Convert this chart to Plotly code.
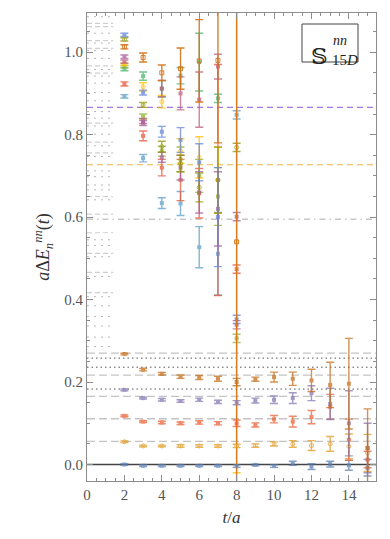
import plotly.graph_objects as go

# ---------------- data ----------------
t_low = [2, 3, 4, 5, 6, 7, 8, 9, 10, 11, 12, 13, 14, 15]

lvl0_val = [0.000, -0.003, -0.003, -0.003, -0.003, -0.003, -0.004, -0.001, -0.004, 0.003, -0.005, 0.001, -0.002, -0.008]
lvl0_err = [0.002, 0.002, 0.002, 0.002, 0.002, 0.002, 0.003, 0.002, 0.003, 0.005, 0.007, 0.007, 0.012, 0.020]
lvl1_val = [0.055, 0.045, 0.045, 0.045, 0.045, 0.045, 0.045, 0.046, 0.050, 0.050, 0.046, 0.050, 0.044, 0.028]
lvl1_err = [0.002, 0.002, 0.002, 0.003, 0.003, 0.003, 0.004, 0.004, 0.005, 0.008, 0.012, 0.018, 0.030, 0.045]
lvl2_val = [0.118, 0.104, 0.102, 0.100, 0.102, 0.100, 0.100, 0.096, 0.110, 0.104, 0.115, 0.140, 0.060, 0.012]
lvl2_err = [0.002, 0.002, 0.003, 0.003, 0.004, 0.004, 0.008, 0.005, 0.009, 0.013, 0.016, 0.030, 0.050, 0.020]
lvl3_val = [0.181, 0.161, 0.157, 0.154, 0.157, 0.152, 0.150, 0.155, 0.157, 0.161, 0.173, 0.147, 0.100, 0.040]
lvl3_err = [0.002, 0.002, 0.003, 0.003, 0.004, 0.004, 0.005, 0.006, 0.009, 0.013, 0.018, 0.038, 0.079, 0.060]
lvl4_val = [0.268, 0.230, 0.220, 0.213, 0.211, 0.208, 0.200, 0.207, 0.212, 0.208, 0.204, 0.193, 0.196, 0.040]
lvl4_err = [0.002, 0.003, 0.003, 0.004, 0.005, 0.006, 0.009, 0.005, 0.012, 0.016, 0.027, 0.055, 0.110, 0.095]

t_up = [2, 3, 4, 5, 6, 7, 8]
up_blue_val = [1.042, 0.902, 0.807, 0.787, 0.733, 0.600, 0.352]
up_blue_err = [0.004, 0.006, 0.013, 0.030, 0.045, 0.120, 0.010]
up_olive_val = [1.031, 0.872, 0.771, 0.730, 0.672, 0.690, 0.769]
up_olive_err = [0.004, 0.006, 0.013, 0.020, 0.035, 0.080, 0.010]
up_orange_val = [1.013, 0.987, 0.950, 0.960, 0.979, 0.980, 0.540]
up_orange_err = [0.005, 0.011, 0.019, 0.050, 0.100, 0.200, 0.900]
up_purple_val = [0.989, 0.828, 0.745, 0.720, 0.660, 0.620, 0.601]
up_purple_err = [0.004, 0.006, 0.012, 0.030, 0.050, 0.090, 0.010]
up_pink_val = [0.977, 0.833, 0.912, 0.900, 0.885, 0.965, 0.339]
up_pink_err = [0.004, 0.006, 0.020, 0.040, 0.067, 0.030, 0.010]
up_yellow_val = [0.971, 0.916, 0.880, 0.760, 0.745, 0.689, 0.540]
up_yellow_err = [0.003, 0.010, 0.015, 0.030, 0.050, 0.080, 0.560]
up_lime_val = [0.965, 0.844, 0.760, 0.740, 0.700, 0.650, 0.306]
up_lime_err = [0.003, 0.006, 0.012, 0.030, 0.040, 0.070, 0.010]
up_green_val = [0.959, 0.942, 0.911, 0.943, 0.976, 0.888, None]
up_green_err = [0.004, 0.010, 0.020, 0.020, 0.070, 0.010, None]
up_red_val = [0.923, 0.797, 0.720, 0.690, 0.658, 0.690, 0.474]
up_red_err = [0.005, 0.012, 0.020, 0.050, 0.060, 0.280, 0.010]
up_lblue_val = [0.893, 0.743, 0.634, 0.633, 0.527, 0.511, 0.848]
up_lblue_err = [0.004, 0.009, 0.013, 0.029, 0.050, 0.100, 0.010]

# full-width reference levels
gray_dash_levels = [0.270, 0.217, 0.165, 0.111, 0.056]
dark_dot_levels = [0.258, 0.236, 0.183]
purple_level = [0.866]
orange_level = [0.727]
dashdot_level = [0.595]
zero_level = [0.0]

# short non-interacting levels near t = 0
left_dot_levels = [1.086, 1.046, 1.022, 1.004, 0.985, 0.958, 0.942, 0.925, 0.902, 0.882,
                   0.856, 0.840, 0.821, 0.801, 0.773, 0.747, 0.712, 0.698, 0.678, 0.666,
                   0.642, 0.545, 0.531, 0.504, 0.456, 0.407, 0.385, 0.359, 0.336, 0.309, 0.286]
left_dash_levels = [1.070, 1.062, 1.028, 1.009, 0.967, 0.949, 0.828, 0.782, 0.756, 0.650,
                    0.607, 0.562, 0.512, 0.466, 0.417]

x_range = [0, 15.45]
y_range = [-0.04, 1.095]
left_extent = [0, 1.4]

fig = go.Figure()

def hline(levels, xs, color, dash, width=1.0):
    for lv in levels:
        fig.add_trace(go.Scatter(x=xs, y=[lv, lv], mode="lines",
                                 line=dict(color=color, dash=dash, width=width),
                                 hoverinfo="skip", showlegend=False))

hline(left_dot_levels, left_extent, "#b8b8b8", "2px,5px", 1.0)
hline(left_dash_levels, left_extent, "#cfcfcf", "5px,3px", 1.2)
hline(gray_dash_levels, x_range, "#c4c4c4", "8px,4px", 1.3)
hline(dark_dot_levels, x_range, "#555555", "1.5px,3px", 1.0)
hline(dashdot_level, x_range, "#aaaaaa", "6px,4px,1.5px,4px", 1.0)
hline(purple_level, x_range, "#a27ae6", "6px,4px", 1.2)
hline(orange_level, x_range, "#f2b34a", "6px,4px", 1.2)
hline(zero_level, x_range, "#444444", "solid", 1.6)

def series(ts, vals, errs, color, symbol="square", opacity=0.75):
    pts = [(t, v, e) for t, v, e in zip(ts, vals, errs) if v is not None]
    fig.add_trace(go.Scatter(
        x=[p[0] for p in pts], y=[p[1] for p in pts], mode="markers",
        marker=dict(color=color, size=4, symbol=symbol),
        opacity=opacity,
        error_y=dict(type="data", array=[p[2] for p in pts], width=4,
                     thickness=1.4, color=color),
        hoverinfo="skip", showlegend=False))

series(t_up, up_lblue_val, up_lblue_err, "#5D9EC7")
series(t_up, up_red_val, up_red_err, "#E95536")
series(t_up, up_green_val, up_green_err, "#47B66D")
series(t_up, up_lime_val, up_lime_err, "#8FB032")
series(t_up, up_yellow_val, up_yellow_err, "#FFBF00", "circle-open")
series(t_up, up_pink_val, up_pink_err, "#BC5B80")
series(t_up, up_purple_val, up_purple_err, "#A5609D")
series(t_up, up_olive_val, up_olive_err, "#929600", "circle-open")
series(t_up, up_blue_val, up_blue_err, "#6685D9")
series(t_up, up_orange_val, up_orange_err, "#D4731A", "square-open", 0.9)

series(t_low, lvl0_val, lvl0_err, "#5E81B5")
series(t_low, lvl1_val, lvl1_err, "#E19C24", "circle-open")
series(t_low, lvl2_val, lvl2_err, "#EB6235")
series(t_low, lvl3_val, lvl3_err, "#8778B3")
series(t_low, lvl4_val, lvl4_err, "#C56E1A")

axis_common = dict(showgrid=False, zeroline=False, showline=True, linecolor="#8c8c8c",
                   linewidth=1, mirror="ticks", ticks="inside", tickcolor="#8c8c8c",
                   ticklen=6, automargin=False,
                   tickfont=dict(family="Liberation Serif", size=15, color="#555555"))

fig.update_xaxes(range=x_range, tick0=0, dtick=2,
                 minor=dict(ticks="inside", dtick=0.5, ticklen=3, tickcolor="#8c8c8c"),
                 title=dict(text="<i>t</i>/<i>a</i>", font=dict(family="Liberation Serif", size=17, color="#333"),
                            standoff=9),
                 **axis_common)
fig.update_yaxes(range=y_range, tick0=0, dtick=0.2, tickformat=".1f",
                 minor=dict(ticks="inside", dtick=0.05, ticklen=3, tickcolor="#8c8c8c"),
                 title=dict(text="<i>a</i>Δ<i>E</i><sub><i>n</i></sub><sup><i>nn</i></sup>(<i>t</i>)",
                            font=dict(family="Liberation Serif", size=18, color="#333"), standoff=9),
                 **axis_common)

# page body has an 8px default margin, so the figure is laid out 8px smaller
OFF = 8
PX0, PW, PY1, PH = 87, 289, 481, 468  # plot-area frame in window pixels
def px(x):
    return (x - PX0) / PW
def py(y):
    return (PY1 - y) / PH

fig.add_shape(type="rect", xref="paper", yref="paper",
              x0=px(302), x1=px(358), y0=py(62), y1=py(24),
              line=dict(color="#444", width=1), fillcolor="white", layer="above")
fig.add_annotation(xref="paper", yref="paper", x=px(330), y=py(41), xanchor="right",
                   text="𝕊", showarrow=False, font=dict(family="DejaVu Serif", size=23, color="#222"))
fig.add_annotation(xref="paper", yref="paper", x=px(331), y=py(31), xanchor="left",
                   text="<i>nn</i>", showarrow=False, font=dict(family="Liberation Serif", size=14, color="#222"))
fig.add_annotation(xref="paper", yref="paper", x=px(330), y=py(50), xanchor="left",
                   text="15<i>D</i>", showarrow=False, font=dict(family="Liberation Serif", size=15, color="#222"))

W, H = 390 - OFF, 539 - OFF
fig.update_layout(width=W, height=H,
                  margin=dict(l=PX0 - OFF, r=W - (PX0 + PW - OFF), t=PY1 - PH - OFF, b=H - (PY1 - OFF)),
                  plot_bgcolor="white", paper_bgcolor="white", showlegend=False)

fig.write_html("out.html")
